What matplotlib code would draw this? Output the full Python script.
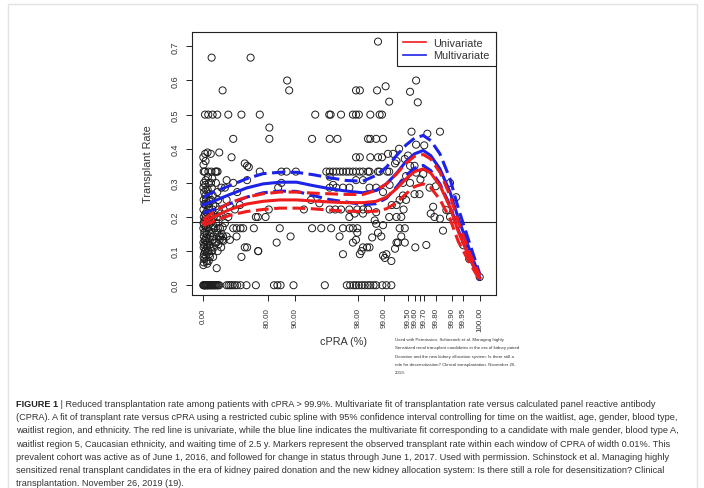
import numpy as np
import matplotlib
matplotlib.use('Agg')
import matplotlib.pyplot as plt
from matplotlib.lines import Line2D
from matplotlib.patches import Rectangle

plt.rcParams['font.family'] = ['Liberation Sans', 'DejaVu Sans']

# ---------------- data ----------------
# x tick positions (cPRA %) and labels (99.65 tick unlabeled)
x_ticks = [0, 80, 90, 98, 99, 99.5, 99.6, 99.65, 99.7, 99.8, 99.9, 99.95, 100]
x_tick_labels = ["0.00", "80.00", "90.00", "98.00", "99.00", "99.50", "99.60", "",
                 "99.70", "99.80", "99.90", "99.95", "100.00"]
y_ticks = [0.0, 0.1, 0.2, 0.3, 0.4, 0.5, 0.6, 0.7]
y_tick_labels = ["0.0", "0.1", "0.2", "0.3", "0.4", "0.5", "0.6", "0.7"]

# fitted curves
fit_cpra = [0, 22.1, 48.6, 66.1, 77.6, 85.3, 90.36, 93.66, 95.85, 97.29, 98.25, 98.77,
            99.07, 99.30, 99.47, 99.59, 99.69, 99.76, 99.83, 99.89, 99.93, 99.97, 100.0]
multi_fit = [0.236, 0.246, 0.266, 0.285, 0.297, 0.302, 0.302, 0.292, 0.283, 0.276, 0.271, 0.278,
             0.297, 0.328, 0.363, 0.385, 0.395, 0.380, 0.341, 0.273, 0.195, 0.107, 0.024]
multi_hi = [0.258, 0.273, 0.292, 0.312, 0.327, 0.331, 0.331, 0.324, 0.315, 0.307, 0.305, 0.322,
            0.346, 0.380, 0.411, 0.431, 0.439, 0.424, 0.385, 0.312, 0.224, 0.127, 0.034]
multi_lo = [0.212, 0.221, 0.239, 0.258, 0.271, 0.276, 0.275, 0.263, 0.251, 0.244, 0.236, 0.239,
            0.255, 0.288, 0.322, 0.343, 0.351, 0.336, 0.297, 0.234, 0.161, 0.083, 0.015]
uni_fit = [0.183, 0.200, 0.222, 0.238, 0.246, 0.250, 0.250, 0.247, 0.244, 0.242, 0.242, 0.246,
           0.258, 0.283, 0.312, 0.333, 0.341, 0.329, 0.292, 0.229, 0.156, 0.083, 0.021]
uni_hi = [0.192, 0.214, 0.242, 0.258, 0.268, 0.273, 0.273, 0.270, 0.268, 0.266, 0.266, 0.278,
          0.297, 0.326, 0.358, 0.378, 0.383, 0.370, 0.331, 0.263, 0.185, 0.097, 0.029]
uni_lo = [0.175, 0.187, 0.205, 0.216, 0.222, 0.226, 0.226, 0.224, 0.220, 0.217, 0.216, 0.217,
          0.224, 0.242, 0.268, 0.289, 0.297, 0.286, 0.251, 0.195, 0.127, 0.068, 0.015]
ref_rate = 0.185

# observed rates: windows with zero transplants
zero_cpra = [0, 1, 2.5, 3.5, 5, 6.4, 8, 9.5, 11, 12.4, 14, 16, 18, 19.5, 21, 22.8, 24.5, 25.9,
             27.5, 29.5, 31, 32.9, 44.2, 46.9, 49.4, 51.9, 54.6, 57.2, 60.6, 66.1, 73.2, 83.0,
             84.4, 85.6, 89.6, 95.3, 97.33, 97.55, 97.76, 97.9, 98.05, 98.2, 98.33, 98.46,
             98.56, 98.68, 98.77, 98.96, 99.07, 99.19]

# observed rates: low cPRA windows (0-40 %)
low_cpra = [0, 0.5, 1, 1.5, 0.2, 2, 0.8, 2.6, 0.4, 1.2, 3, 0.6, 1.8, 0.1, 2.3, 1.4, 3.4, 0.3, 2.1,
            0.9, 3.8, 1.6, 0.7, 2.8, 1.1, 0.2,
            4.5, 5.5, 4, 6, 5, 7, 4.8, 6.5, 5.2, 7.5, 4.2, 6.2, 8, 5.8, 7.2, 4.6, 8.5, 6.8, 5.4,
            7.8, 9, 6.4, 8.2, 5.6, 7.4, 9.4,
            10, 12, 11, 13, 10.5, 12.5, 14, 11.5, 13.5, 10.2, 15, 12.2, 14.5, 11.2, 13.2, 15.5,
            12.8, 10.8, 14.2, 16, 11.8, 13.8, 15.2, 12.6,
            17, 18.5, 20, 17.5, 19, 21, 18, 22, 20.5, 17.2, 23, 19.5, 21.5, 24, 18.8, 22.5, 20.2,
            25, 23.5, 19.8, 21.8, 28.5,
            26, 28, 30, 27, 29.5, 31, 26.5, 32, 28.8, 33, 27.5, 30.5, 34, 29, 32.5, 35, 27.8,
            31.5, 36, 33.5, 30.2, 37, 38, 32.9, 36.5, 38.5, 35.5, 39,
            4.1, 11.7, 20.8, 29.5, 18.8, 38.3]
low_rate = [0.375, 0.353, 0.333, 0.3, 0.286, 0.273, 0.25, 0.238, 0.222, 0.2, 0.19, 0.182, 0.176,
            0.167, 0.154, 0.143, 0.133, 0.125, 0.118, 0.111, 0.1, 0.091, 0.083, 0.077, 0.067, 0.059,
            0.385, 0.364, 0.333, 0.308, 0.294, 0.278, 0.263, 0.25, 0.235, 0.214, 0.208, 0.2, 0.188,
            0.174, 0.167, 0.158, 0.15, 0.138, 0.13, 0.12, 0.111, 0.105, 0.095, 0.087, 0.071, 0.063,
            0.389, 0.333, 0.318, 0.3, 0.28, 0.267, 0.25, 0.24, 0.227, 0.211, 0.2, 0.19, 0.179,
            0.167, 0.16, 0.143, 0.136, 0.125, 0.118, 0.111, 0.1, 0.091, 0.083, 0.071,
            0.385, 0.333, 0.313, 0.3, 0.286, 0.263, 0.25, 0.235, 0.222, 0.211, 0.2, 0.188, 0.176,
            0.167, 0.154, 0.143, 0.133, 0.125, 0.111, 0.1, 0.083, 0.05,
            0.333, 0.333, 0.333, 0.3, 0.273, 0.25, 0.231, 0.222, 0.2, 0.2, 0.182, 0.167, 0.167,
            0.154, 0.143, 0.143, 0.125, 0.12, 0.111, 0.133, 0.1, 0.15, 0.133, 0.389, 0.286, 0.17,
            0.21, 0.143,
            0.5, 0.5, 0.5, 0.5, 0.667, 0.571]

# observed rates: mid cPRA windows (40-95 %)
mid_cpra = [46.5, 61.5, 75.7, 52.7, 50.7, 64.6, 66.6, 68.0, 41.8, 44.2, 52.7, 57.2, 66.6, 75.7,
            48.6, 44.2, 54.6, 60.0, 73.2, 74.5, 79.0, 52.7, 56.5, 60.6, 63.1, 71.8, 74.7, 44.2,
            48.6, 56.5, 64.6, 66.6, 61.5, 74.7, 41.8, 46.5, 39.5, 69.4,
            80.9, 80.9, 87.8, 88.4, 85.9, 87.6, 90.2, 84.7, 85.9, 80.6, 85.3, 84.1, 88.8, 93.5,
            94.0, 93.3, 93.5, 92.0, 94.6]
mid_rate = [0.5, 0.5, 0.5, 0.429, 0.375, 0.357, 0.35, 0.346, 0.286, 0.308, 0.3, 0.273, 0.308,
            0.333, 0.231, 0.25, 0.222, 0.235, 0.2, 0.2, 0.2, 0.167, 0.167, 0.167, 0.167, 0.167,
            0.1, 0.143, 0.133, 0.143, 0.111, 0.111, 0.083, 0.1, 0.182, 0.2, 0.13, 0.667,
            0.462, 0.429, 0.6, 0.571, 0.333, 0.333, 0.333, 0.286, 0.3, 0.222, 0.167, 0.125, 0.143,
            0.429, 0.5, 0.25, 0.167, 0.222, 0.24]

# observed rates: high cPRA windows (95-100 %)
high_cpra = [95.8, 95.95, 96.9, 97.72, 97.9, 98.05, 95.85, 96.6, 97.9, 98.1, 97.9, 98.1,
             95.48, 95.85, 96.2, 96.5, 96.8, 97.05, 97.3, 97.5, 97.72, 97.9, 98.1,
             95.85, 96.2, 95.85, 96.5, 97.05, 97.5, 97.9, 95.85, 96.4, 96.9, 97.5, 97.97,
             97.5, 97.82, 94.85, 96.0, 97.05, 97.51, 97.72, 97.97, 96.78, 97.05, 97.72, 97.9,
             97.97,
             98.83, 98.80, 99.05, 99.14, 98.56, 98.88, 98.95, 98.47, 98.56, 98.77, 98.98, 98.56,
             98.83, 98.95, 99.11, 98.25, 98.47, 98.53, 98.83, 98.88, 99.09, 99.14, 98.25, 98.53,
             98.77, 98.98, 99.15, 99.27, 99.23, 99.30, 98.25, 98.47, 98.77, 98.25, 98.72, 98.77,
             98.98, 99.14, 99.20, 99.30, 99.36, 99.30, 99.39, 98.25, 98.43, 98.53, 98.10, 98.18,
             98.83, 98.93, 98.63, 98.98, 99.03, 99.19, 99.07, 99.27, 99.30, 99.33, 99.36, 99.39,
             99.45, 99.45,
             99.35, 99.53, 99.61, 99.63, 99.55, 99.73, 99.83, 99.61, 99.70, 99.45, 99.53, 99.59,
             99.61, 99.69, 99.42, 99.47, 99.53, 99.59, 99.65, 99.75, 99.89, 99.76, 99.79, 99.78,
             99.83, 99.85, 99.87, 99.89, 99.92, 99.60, 99.72, 99.95, 99.97, 100.0, 99.43, 99.47,
             99.42, 99.50, 99.66, 99.80]
high_rate = [0.5, 0.5, 0.5, 0.5, 0.5, 0.5, 0.429, 0.429, 0.571, 0.571, 0.375, 0.375,
             0.333, 0.333, 0.333, 0.333, 0.333, 0.333, 0.333, 0.333, 0.333, 0.333, 0.333,
             0.318, 0.294, 0.286, 0.286, 0.286, 0.286, 0.308, 0.222, 0.222, 0.222, 0.222, 0.222,
             0.2, 0.21, 0.167, 0.167, 0.167, 0.167, 0.167, 0.167, 0.143, 0.091, 0.125, 0.133,
             0.154,
             0.714, 0.571, 0.583, 0.538, 0.5, 0.5, 0.5, 0.429, 0.429, 0.429, 0.429, 0.375,
             0.375, 0.375, 0.385, 0.333, 0.333, 0.333, 0.333, 0.333, 0.333, 0.333, 0.308, 0.286,
             0.286, 0.273, 0.294, 0.357, 0.385, 0.364, 0.222, 0.222, 0.214, 0.21, 0.19, 0.18,
             0.176, 0.2, 0.235, 0.235, 0.25, 0.2, 0.2, 0.111, 0.111, 0.111, 0.091, 0.1,
             0.154, 0.143, 0.14, 0.087, 0.08, 0.071, 0.091, 0.107, 0.125, 0.125, 0.167, 0.143,
             0.167, 0.125,
             0.4, 0.567, 0.6, 0.536, 0.45, 0.444, 0.45, 0.412, 0.41, 0.37, 0.35, 0.35,
             0.33, 0.326, 0.3, 0.32, 0.3, 0.267, 0.267, 0.286, 0.3, 0.21, 0.2, 0.23,
             0.195, 0.16, 0.22, 0.2, 0.258, 0.111, 0.118, 0.117, 0.077, 0.024, 0.222, 0.25,
             0.263, 0.38, 0.31, 0.29]

series_names = ["Univariate", "Multivariate"]
uni_color = "#ee1c1c"
multi_color = "#1c22e6"

# ---------------- figure ----------------
W, H = 704, 489
fig = plt.figure(figsize=(W / 100, H / 100), dpi=100)
fig.patch.set_facecolor("white")

# faint outer frame of the page
fig.add_artist(Rectangle((8 / W, -0.02), (697 - 8) / W, 1.02 - 5 / H, transform=fig.transFigure,
                         fill=False, edgecolor="#e2e2e2", lw=1.0))

ax = fig.add_axes([191.7 / W, 1 - 296 / H, (495.7 - 191.7) / W, (296 - 32.7) / H])

def fwd(x):
    x = np.asarray(x, dtype=float)
    return -np.log(np.clip(100.1 - x, 1e-6, None))

def inv(t):
    return 100.1 - np.exp(-np.asarray(t, dtype=float))

ax.set_xscale("function", functions=(fwd, inv))
ax.set_xlim(-33.7, 100.033)
ax.set_ylim(-0.0286, 0.743)

pt_kw = dict(s=26, facecolors="none", edgecolors="#1e1e1e", linewidths=0.7, zorder=2)
ax.scatter(zero_cpra, np.zeros(len(zero_cpra)), **pt_kw)
ax.scatter(low_cpra, low_rate, **pt_kw)
ax.scatter(mid_cpra, mid_rate, **pt_kw)
ax.scatter(high_cpra, high_rate, **pt_kw)

ax.axhline(ref_rate, color="#222222", lw=0.8, zorder=3)

lw = 2.2
dash = (4.2, 1.8)
ax.plot(fit_cpra, multi_hi, color=multi_color, lw=lw, dashes=dash, zorder=4)
ax.plot(fit_cpra, multi_lo, color=multi_color, lw=lw, dashes=dash, zorder=4)
ax.plot(fit_cpra, multi_fit, color=multi_color, lw=lw, zorder=4)
ax.plot(fit_cpra, uni_hi, color=uni_color, lw=lw, dashes=dash, zorder=5)
ax.plot(fit_cpra, uni_lo, color=uni_color, lw=lw, dashes=dash, zorder=5)
ax.plot(fit_cpra, uni_fit, color=uni_color, lw=lw, zorder=5)

ax.set_xticks(x_ticks)
ax.set_xticklabels(x_tick_labels, rotation=90, fontsize=5.8)
ax.set_yticks(y_ticks)
ax.set_yticklabels(y_tick_labels, rotation=90, va="center", fontsize=6.5)
ax.tick_params(axis="both", direction="out", length=4.3, width=0.7, color="#222222",
               labelcolor="#333333")
ax.tick_params(axis="x", pad=4.5)
ax.tick_params(axis="y", pad=4.5)
ax.xaxis.set_minor_locator(matplotlib.ticker.NullLocator())
for sp in ax.spines.values():
    sp.set_linewidth(0.8)
    sp.set_color("#222222")

ax.set_xlabel("cPRA (%)", fontsize=7.8, color="#333333")
ax.xaxis.set_label_coords(0.5, (296 - 341.7) / (296 - 32.7))
ax.xaxis.label.set_va("center")
ax.set_ylabel("Transplant Rate", fontsize=7.8, color="#333333")
ax.yaxis.set_label_coords((148.3 - 191.7) / (495.7 - 191.7), 0.5)
ax.yaxis.label.set_va("center")

handles = [Line2D([], [], color=uni_color, lw=1.2), Line2D([], [], color=multi_color, lw=1.2)]
leg = ax.legend(handles, series_names, loc="upper right", fontsize=7.8, frameon=True,
                fancybox=False, borderaxespad=0, borderpad=0.55, labelspacing=0.25,
                handlelength=2.15, handletextpad=0.65, framealpha=1)
leg.get_frame().set_edgecolor("#222222")
leg.get_frame().set_linewidth(0.8)
for t in leg.get_texts():
    t.set_color("#333333")

# permission note
note_lines = ["Used with Permission. Schinstock et al. Managing highly",
              "Sensitized renal transplant candidates in the era of kidney paired",
              "Donation and the new kidney allocation system: Is there still a",
              "role for desensitization? Clinical transplantation. November 26,",
              "2019."]
for i, line in enumerate(note_lines):
    fig.text(395 / W, 1 - (340 + 8.3 * i) / H, line, fontsize=3.2, va="center",
             color="#333333", family=["Liberation Sans Narrow", "Liberation Sans"])

# caption
cap_color = "#333333"
cap_size = 6.6
y0 = 404.5
dy = 13.2
t1 = fig.text(16 / W, 1 - y0 / H, "FIGURE 1", fontsize=cap_size, weight="bold",
              va="center", color="#222222")
fig.canvas.draw()
ax.annotate(" | Reduced transplantation rate among patients with cPRA > 99.9%. Multivariate fit of "
            "transplantation rate versus calculated panel reactive antibody",
            xy=(1, 0.5), xycoords=t1, va="center", ha="left", fontsize=cap_size, color=cap_color,
            annotation_clip=False)
cap_lines = [
    "(CPRA). A fit of transplant rate versus cPRA using a restricted cubic spline with 95% confidence interval controlling for time on the waitlist, age, gender, blood type,",
    "waitlist region, and ethnicity. The red line is univariate, while the blue line indicates the multivariate fit corresponding to a candidate with male gender, blood type A,",
    "waitlist region 5, Caucasian ethnicity, and waiting time of 2.5 y. Markers represent the observed transplant rate within each window of CPRA of width 0.01%. This",
    "prevalent cohort was active as of June 1, 2016, and followed for change in status through June 1, 2017. Used with permission. Schinstock et al. Managing highly",
    "sensitized renal transplant candidates in the era of kidney paired donation and the new kidney allocation system: Is there still a role for desensitization? Clinical",
    "transplantation. November 26, 2019 (19).",
]
for i, line in enumerate(cap_lines):
    fig.text(16 / W, 1 - (y0 + dy * (i + 1)) / H, line, fontsize=cap_size, va="center",
             color=cap_color)

fig.savefig("out.png", dpi=100)
